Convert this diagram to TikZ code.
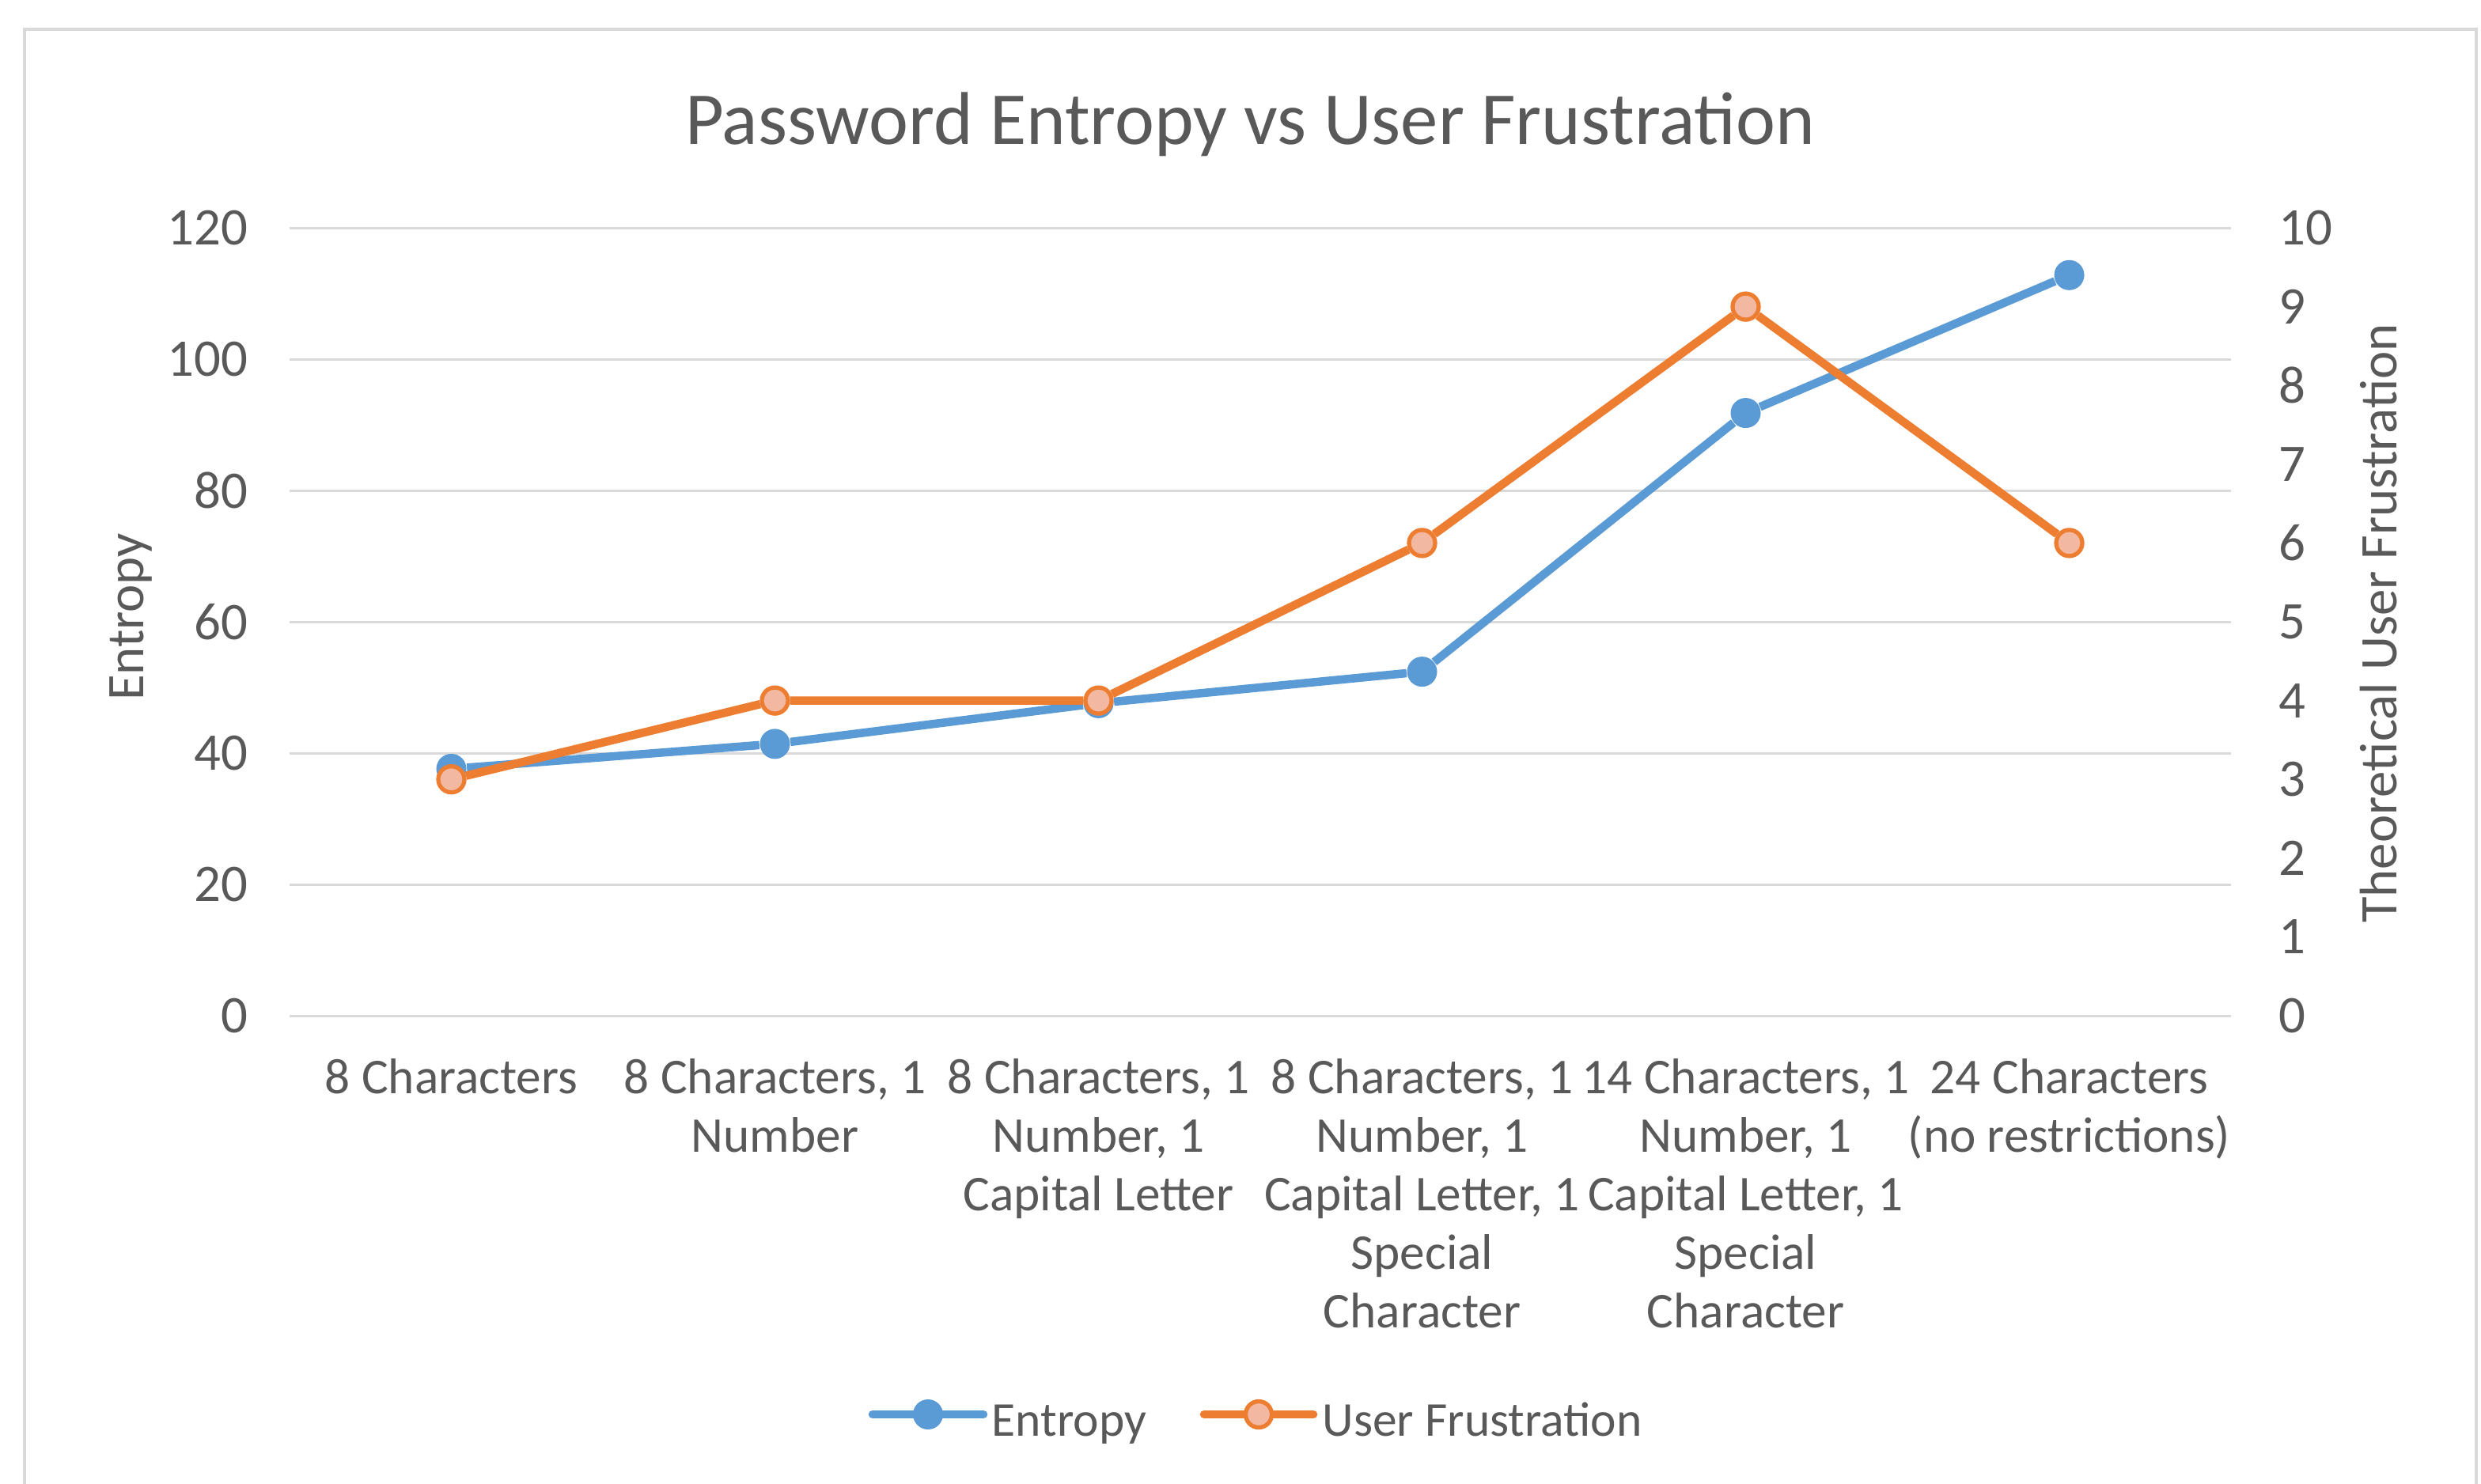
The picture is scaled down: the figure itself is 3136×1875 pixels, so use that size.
\documentclass[tikz,border=0pt]{standalone}
\usepackage{fontspec}
\setmainfont{Carlito}
\usetikzlibrary{positioning}
\definecolor{entblue}{HTML}{5B9BD5}
\definecolor{frorange}{HTML}{ED7D31}
\definecolor{frfill}{HTML}{F2B8A2}
\definecolor{txtgray}{HTML}{595959}
\definecolor{gridgray}{HTML}{D9D9D9}

\begin{document}
\begin{tikzpicture}[
  x=0.01cm, y=-0.01cm,
  font=\fontsize{19}{21}\selectfont, text=txtgray,
  grid/.style={draw=gridgray, line width=0.85pt},
  tick/.style={inner sep=0pt},
  cat/.style={inner sep=0pt, align=center, anchor=north, font=\fontsize{18}{21}\selectfont},
  entline/.style={draw=entblue, line width=3pt, line join=round},
  frline/.style={draw=frorange, line width=3pt, line join=round},
  entmark/.style={circle, fill=entblue, inner sep=0pt, minimum size=0.38cm},
  frmark/.style={circle, fill=frfill, draw=frorange, line width=1.5pt, inner sep=0pt, minimum size=0.33cm},
  lgtext/.style={anchor=base west, inner sep=0pt, font=\fontsize{17.5}{21}\selectfont}
]
\useasboundingbox (0,0) rectangle (3136,1875);
\draw[gridgray, line width=1.3pt] (31,37) rectangle (3130,1920);

\node[font=\fontsize{26.9}{30}\selectfont, anchor=base] (title) at (1580,182) {Password Entropy vs User Frustration};

% axes
\foreach \v in {0,20,...,120} {
  \draw[grid] (366,{1284-8.3*\v}) -- (2820,{1284-8.3*\v});
  \node[tick, anchor=east] (yl\v) at (314,{1284-8.3*\v}) {\v};
}
\foreach \v in {0,...,10}
  \node[tick, anchor=west] (yr\v) at (2880,{1284-99.6*\v}) {\v};

\node[rotate=90] (ylab) at (165,780) {Entropy};
\node[rotate=90] (yrlab) at (3007,788) {Theoretical User Frustration};

% categories
\node[cat] (c1) at (570.5,1338) {8 Characters};
\node[cat] (c2) at (979.5,1338) {8 Characters, 1\\Number};
\node[cat] (c3) at (1388.5,1338) {8 Characters, 1\\Number, 1\\Capital Letter};
\node[cat] (c4) at (1797.5,1338) {8 Characters, 1\\Number, 1\\Capital Letter, 1\\Special\\Character};
\node[cat] (c5) at (2206.5,1338) {14 Characters, 1\\Number, 1\\Capital Letter, 1\\Special\\Character};
\node[cat] (c6) at (2615.5,1338) {24 Characters\\(no restrictions)};

% entropy series
\foreach \v [count=\i] in {37.6,41.4,47.6,52.4,91.8,112.8}
  \node[entmark] (e\i) at ({161.5+409*\i},{1284-8.3*\v}) {};
\draw[entline] (e1) -- (e2) -- (e3) -- (e4) -- (e5) -- (e6);

% frustration series
\foreach \v [count=\i] in {3,4,4,6,9,6}
  \node[frmark] (f\i) at ({161.5+409*\i},{1284-99.6*\v}) {};
\draw[frline] (f1) -- (f2) -- (f3) -- (f4) -- (f5) -- (f6);

% legend
\coordinate (le1) at (1103,1788);
\coordinate (le2) at (1243,1788);
\coordinate (lf1) at (1522,1788);
\coordinate (lf2) at (1660,1788);
\draw[entline, line cap=round] (le1) -- (le2);
\node[entmark] (lge) at (1173,1788) {};
\node[lgtext] (lgetext) at (1253,1815) {Entropy};
\draw[frline, line cap=round] (lf1) -- (lf2);
\node[frmark] (lgf) at (1591,1788) {};
\node[lgtext] (lgftext) at (1671,1815) {User Frustration};
\end{tikzpicture}
\end{document}
